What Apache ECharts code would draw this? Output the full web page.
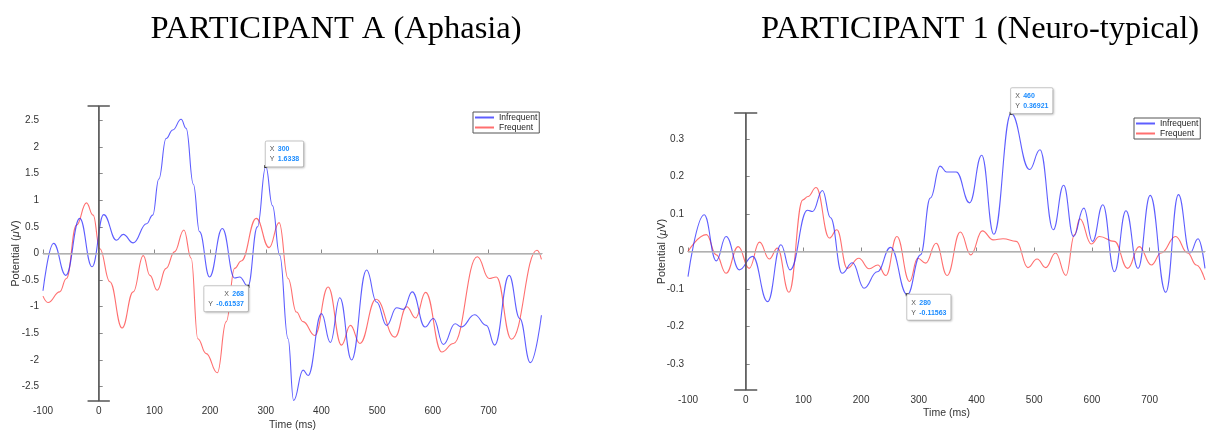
<!DOCTYPE html>
<html>
<head>
<meta charset="utf-8">
<script src="https://cdn.jsdelivr.net/npm/echarts@6/dist/echarts.min.js"></script>
<style>
  html, body { margin: 0; padding: 0; background: #ffffff; }
  #chart { width: 1207px; height: 433px; }
</style>
</head>
<body>
<div id="chart"></div>
<script>
// ---------------- DATA ----------------
const leftTitle = 'PARTICIPANT A (Aphasia)';
const rightTitle = 'PARTICIPANT 1 (Neuro-typical)';
const seriesNames = ['Infrequent', 'Frequent'];
const xAxisName = 'Time (ms)';

// time range (ms)
const timeMin = -100;
const timeMax = 796;
const xTicks = [-100, 0, 100, 200, 300, 400, 500, 600, 700];

// Participant A (Aphasia): [time ms, potential µV]
const aInfrequent = [
  [-100,-0.70],[-81,0.19],[-59,-0.41],[-34,0.66],[-12,-0.25],[9,0.73],[32,0.25],[44,0.36],[62,0.20],
  [86,0.56],[97,0.72],[108,1.40],[121,2.16],[133,2.32],[148,2.52],[157,2.35],[170,1.30],[181,0.41],
  [199,-0.44],[222,0.47],[244,-0.46],[253,-0.44],[268,-0.61537],[285,0.50],[300,1.6338],[312,0.90],
  [325,-0.03],[340,-1.60],[350,-2.76],[367,-2.19],[376,-2.29],[400,-1.13],[416,-1.67],[433,-0.83],
  [454,-2.00],[481,-0.31],[499,-0.91],[517,-1.35],[535,-1.02],[547,-1.05],[563,-0.72],[586,-1.38],
  [601,-1.22],[619,-1.71],[640,-1.32],[651,-1.38],[675,-1.15],[696,-1.35],[711,-1.72],[737,-0.41],
  [756,-1.22],[775,-2.05],[795,-1.16]
];
const aFrequent = [
  [-100,-0.80],[-91,-0.92],[-70,-0.72],[-58,-0.47],[-40,0.53],[-22,0.95],[-10,0.72],[2,0.09],[20,-0.53],
  [42,-1.40],[62,-0.72],[80,-0.04],[92,-0.41],[105,-0.69],[121,-0.28],[136,0.03],[153,0.44],[166,-0.09],
  [178,-1.60],[193,-1.88],[213,-2.24],[229,-1.28],[244,-0.28],[256,-0.14],[283,0.66],[306,0.11],
  [324,0.58],[340,-0.47],[355,-1.10],[367,-1.28],[388,-1.54],[412,-0.63],[436,-1.72],[452,-1.35],
  [469,-1.69],[498,-0.86],[532,-1.57],[553,-1.00],[569,-1.21],[587,-0.73],[616,-1.85],[637,-1.69],
  [680,-0.06],[701,-0.47],[714,-0.44],[741,-1.61],[787,0.06],[795,-0.11]
];
const aYRange = [-2.77, 2.77];
const aYTicks = [-2.5, -2, -1.5, -1, -0.5, 0, 0.5, 1, 1.5, 2, 2.5];
const aDataTips = [[300, 1.6338], [268, -0.61537]];

// Participant 1 (Neuro-typical)
const bInfrequent = [
  [-100,-0.067],[-72,0.098],[-51,-0.025],[-34,0.040],[-11,-0.049],[12,-0.013],[38,-0.134],[61,0.018],
  [77,-0.049],[107,0.110],[116,0.107],[133,0.163],[147,0.090],[167,-0.058],[185,-0.030],[205,-0.098],
  [228,-0.054],[251,0.011],[280,-0.11563],[303,-0.009],[320,0.143],[337,0.228],[348,0.2125],[365,0.2125],
  [388,0.130],[409,0.257],[430,0.046],[460,0.36921],[492,0.219],[510,0.272],[533,0.058],[551,0.177],
  [568,0.040],[586,0.116],[601,0.027],[619,0.125],[639,-0.054],[659,0.109],[680,-0.045],[701,0.150],
  [728,-0.109],[750,0.152],[770,-0.004],[784,0.034],[796,-0.045]
];
const bFrequent = [
  [-100,0.000],[-68,0.045],[-51,-0.009],[-34,-0.058],[-13,0.013],[6,-0.045],[24,0.025],[41,-0.020],
  [55,0.009],[75,-0.109],[99,0.138],[108,0.147],[122,0.171],[145,0.036],[158,0.058],[176,-0.045],
  [196,-0.018],[214,-0.046],[229,-0.036],[243,-0.064],[262,0.040],[284,-0.080],[298,-0.018],[312,-0.031],
  [330,0.022],[349,-0.064],[372,0.052],[390,-0.009],[410,0.055],[429,0.031],[446,0.034],[469,0.027],
  [489,-0.043],[505,-0.020],[520,-0.043],[537,-0.004],[555,-0.064],[570,0.045],[579,0.0875],[599,0.020],
  [613,0.040],[639,0.027],[662,-0.045],[682,0.013],[703,-0.036],[720,-0.004],[745,0.040],[766,-0.004],
  [781,-0.036],[796,-0.076]
];
const bYRange = [-0.37, 0.37];
const bYTicks = [-0.3, -0.2, -0.1, 0, 0.1, 0.2, 0.3];
const bDataTips = [[460, 0.36921], [280, -0.11563]];

const onsetTime = 0;

// ---------------- STYLE / LAYOUT ----------------
const BLUE = 'rgba(40,40,255,0.75)';
const RED = 'rgba(255,50,50,0.70)';
const AXIS_COLOR = '#8a8a8a';
const LABEL_COLOR = '#333333';
const FONT = '"Liberation Sans", Arial, Helvetica, sans-serif';
const SERIF = '"Liberation Serif", "Times New Roman", serif';
const capHalf = 20; // ms, half width of onset marker cap

const grids = [
  { left: 43, top: 106, width: 499, height: 295, outerBoundsMode: 'none', containLabel: false },
  { left: 688, top: 113, width: 517, height: 277, outerBoundsMode: 'none', containLabel: false }
];

function xAxisFor(i, nameGap, labelMargin) {
  return {
    type: 'value', gridIndex: i, min: timeMin, max: timeMax,
    name: xAxisName, nameLocation: 'middle', nameGap: nameGap, nameMoveOverlap: false,
    nameTextStyle: { fontFamily: FONT, fontSize: 10.5, color: LABEL_COLOR },
    axisLine: { show: true, lineStyle: { color: AXIS_COLOR, width: 1 } },
    axisTick: { show: true, inside: true, length: 4, customValues: xTicks, lineStyle: { color: AXIS_COLOR } },
    axisLabel: { customValues: xTicks, fontFamily: FONT, fontSize: 10, color: LABEL_COLOR, margin: labelMargin },
    splitLine: { show: false }
  };
}
function yAxisFor(i, range, ticks, nameGap, nameSize) {
  return {
    type: 'value', gridIndex: i, min: range[0], max: range[1],
    name: 'Potential ({it|μ}V)', nameLocation: 'middle', nameRotate: 90, nameGap: nameGap,
    nameMoveOverlap: false,
    nameTextStyle: { fontFamily: FONT, fontSize: nameSize, color: LABEL_COLOR,
      rich: { it: { fontFamily: FONT, fontStyle: 'italic', fontSize: nameSize, color: LABEL_COLOR } } },
    axisLine: { show: true, lineStyle: { color: AXIS_COLOR, width: 1 } },
    axisTick: { show: true, inside: true, length: 4, customValues: ticks, lineStyle: { color: AXIS_COLOR } },
    axisLabel: { customValues: ticks, fontFamily: FONT, fontSize: 10, color: LABEL_COLOR, margin: 4,
      formatter: v => String(v) },
    splitLine: { show: false }
  };
}

// placement of data tip box relative to its point: [align, verticalAlign]
const tipPlacement = [['left', 'bottom'], ['right', 'top']];
const tipPlacementB = [['left', 'bottom'], ['left', 'top']];

function tipPoints(tips, placements) {
  return tips.map((p, k) => ({
    coord: p,
    label: {
      align: placements[k][0], verticalAlign: placements[k][1],
      formatter: '{k|X} {v|' + p[0] + '}\n{k|Y} {v|' + p[1] + '}'
    }
  }));
}
const tipStyle = {
  symbol: 'rect', symbolSize: 3,
  itemStyle: { color: '#222' },
  label: {
    show: true, position: 'inside',
    backgroundColor: '#ffffff', borderColor: '#c8c8c8', borderWidth: 1, borderRadius: 1,
    padding: [3, 4, 2, 4], lineHeight: 10,
    shadowColor: 'rgba(0,0,0,0.15)', shadowBlur: 2, shadowOffsetX: 1, shadowOffsetY: 1,
    rich: {
      k: { fontFamily: FONT, fontSize: 7, color: '#555', lineHeight: 10 },
      v: { fontFamily: FONT, fontSize: 7, color: '#1c8cff', fontWeight: 'bold', lineHeight: 10 }
    }
  }
};

function onsetMarks(range) {
  return {
    silent: true, symbol: 'none', animation: false,
    label: { show: false },
    lineStyle: { color: '#555', width: 1.5, type: 'solid' },
    data: [
      [{ coord: [onsetTime, range[0]] }, { coord: [onsetTime, range[1]] }],
      [{ coord: [onsetTime - capHalf, range[1]] }, { coord: [onsetTime + capHalf, range[1]] }],
      [{ coord: [onsetTime - capHalf, range[0]] }, { coord: [onsetTime + capHalf, range[0]] }]
    ]
  };
}
function zeroLine() {
  return {
    silent: true, symbol: 'none', animation: false,
    label: { show: false },
    lineStyle: { color: '#bdbdbd', width: 1.5, type: 'solid' },
    data: [{ yAxis: 0 }]
  };
}

function lineSeries(name, data, color, i, extra) {
  return Object.assign({
    type: 'line', name: name, xAxisIndex: i, yAxisIndex: i, data: data,
    symbol: 'none', showSymbol: false, smooth: 0.45, smoothMonotone: 'x', animation: false,
    lineStyle: { color: color, width: 1.1 }, itemStyle: { color: color }, z: 3
  }, extra || {});
}

const legendBase = {
  orient: 'vertical', backgroundColor: '#ffffff', borderColor: '#555', borderWidth: 1,
  padding: [1, 2, 1, 1], itemGap: 1, itemWidth: 19, itemHeight: 10,
  itemStyle: { opacity: 0 },
  textStyle: { fontFamily: FONT, fontSize: 8.5, color: '#222' },
  data: seriesNames
};

const option = {
  backgroundColor: '#ffffff',
  animation: false,
  grid: grids,
  xAxis: [xAxisFor(0, 19, 5.5), xAxisFor(1, 18, 5)],
  yAxis: [yAxisFor(0, aYRange, aYTicks, 22, 11), yAxisFor(1, bYRange, bYTicks, 20, 10.8)],
  legend: [
    Object.assign({}, legendBase, { left: 473, top: 112 }),
    Object.assign({}, legendBase, { left: 1134, top: 118 })
  ],
  graphic: [
    { type: 'text', x: 336, y: 29, style: { text: leftTitle, font: '32.5px ' + SERIF, fill: '#000',
      textAlign: 'center', textVerticalAlign: 'middle' } },
    { type: 'text', x: 980, y: 29, style: { text: rightTitle, font: '32.5px ' + SERIF, fill: '#000',
      textAlign: 'center', textVerticalAlign: 'middle' } }
  ],
  series: [
    lineSeries('Infrequent', aInfrequent, BLUE, 0, {
      markLine: zeroLine(),
      markPoint: Object.assign({ data: tipPoints(aDataTips, tipPlacement) }, tipStyle), z: 4 }),
    lineSeries('Frequent', aFrequent, RED, 0, { markLine: onsetMarks(aYRange) }),
    lineSeries('Infrequent', bInfrequent, BLUE, 1, {
      markLine: zeroLine(),
      markPoint: Object.assign({ data: tipPoints(bDataTips, tipPlacementB) }, tipStyle), z: 4 }),
    lineSeries('Frequent', bFrequent, RED, 1, { markLine: onsetMarks(bYRange) })
  ]
};

const chart = echarts.init(document.getElementById('chart'), null, { renderer: 'canvas' });
chart.setOption(option);
</script>
</body>
</html>
